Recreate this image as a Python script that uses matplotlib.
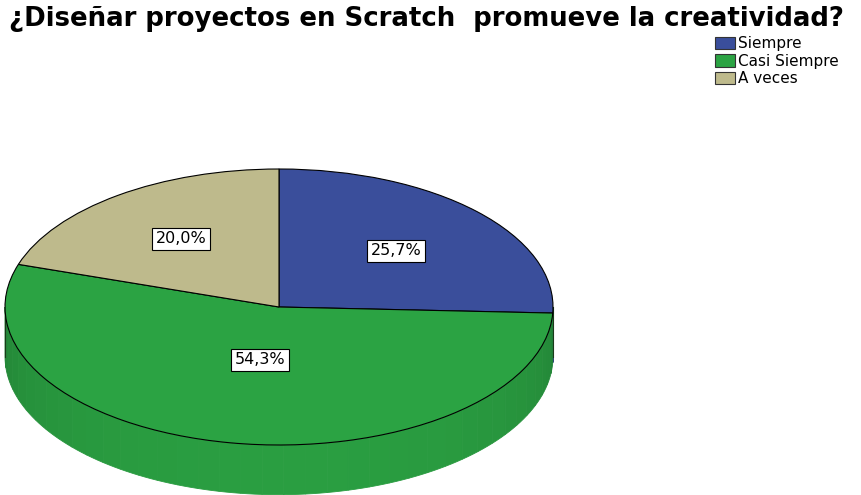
"""3D-style pie chart: ¿Diseñar proyectos en Scratch promueve la creatividad?"""
import numpy as np
import matplotlib
matplotlib.use("Agg")
import matplotlib.pyplot as plt
from matplotlib.patches import Polygon, Patch

labels = ["Siempre", "Casi Siempre", "A veces"]
values = [25.7, 54.3, 20.0]
colors = ["#3A4E9B", "#2BA343", "#BEBA8C"]
label_radius = [0.59, 0.39, 0.61]

plt.rcParams['font.family'] = ['DejaVu Sans']

fig = plt.figure(figsize=(8.61, 4.95), dpi=100)
ax = fig.add_axes([0, 0, 1, 1])

depth = 0.36  # thickness of the pie, in y units

# slice angles (clockwise from the top)
total = sum(values)
angles = [90.0]
for v in values:
    angles.append(angles[-1] - v / total * 360.0)

# side walls: only the front half (-180..0 degrees) is visible
for i in range(len(values)):
    a_start, a_end = angles[i + 1], angles[i]
    for shift in (0, -360, 360):
        s, e = a_start + shift, a_end + shift
        s2, e2 = max(s, -180), min(e, 0)
        if e2 <= s2:
            continue
        steps = np.linspace(s2, e2, 40)
        base = np.array(matplotlib.colors.to_rgb(colors[i]))
        for k in range(len(steps) - 1):
            t = np.radians(np.linspace(steps[k], steps[k + 1], 4))
            xs = np.cos(t)
            ys = np.sin(t)
            pts = np.column_stack([np.r_[xs, xs[::-1]],
                                   np.r_[ys, ys[::-1] - depth]])
            mid = np.radians((steps[k] + steps[k + 1]) / 2)
            shade = 0.78 + 0.19 * abs(np.sin(mid)) ** 0.6
            ax.add_patch(Polygon(pts, closed=True, facecolor=base * shade,
                                 edgecolor=base * shade, linewidth=0.6,
                                 zorder=1))

# outline of the side wall edges
ax.plot([-1, -1], [0, -depth], color="#1a3a1a", lw=0.8, zorder=2)
ax.plot([1, 1], [0, -depth], color="#1a3a1a", lw=0.8, zorder=2)

# top face
wedges, _ = ax.pie(values, colors=colors, startangle=90, counterclock=False,
                   radius=1.0,
                   wedgeprops=dict(edgecolor="black", linewidth=0.8))
for w in wedges:
    w.set_zorder(3)

# percentage labels
for i, v in enumerate(values):
    mid = np.radians((angles[i] + angles[i + 1]) / 2)
    r = label_radius[i]
    ax.text(r * np.cos(mid), r * np.sin(mid), f"{v:.1f}%".replace(".", ","),
            ha="center", va="center", fontsize=11.5, zorder=5,
            bbox=dict(boxstyle="square,pad=0.22", facecolor="white",
                      edgecolor="black", linewidth=0.8))

# pixel-matched scaling: rx = 274 px, ry = 138 px, centre at (279, 307)
ax.set_aspect("auto")
ax.set_xlim(-279 / 274, (861 - 279) / 274)
ax.set_ylim((307 - 495) / 138, 307 / 138)
ax.axis("off")

fig.text(0.011, 0.962, "¿Diseñar proyectos en Scratch  promueve la creatividad?",
         fontsize=18.7, fontweight="bold", ha="left", va="center")

handles = [Patch(facecolor=c, edgecolor="#333333", linewidth=0.8) for c in colors]
fig.legend(handles, labels, loc="upper left", bbox_to_anchor=(0.831, 0.927),
           frameon=False, fontsize=11, handlelength=1.25, handleheight=0.9,
           handletextpad=0.25, labelspacing=0.17, borderaxespad=0, borderpad=0)

fig.savefig("out.png", dpi=100)
